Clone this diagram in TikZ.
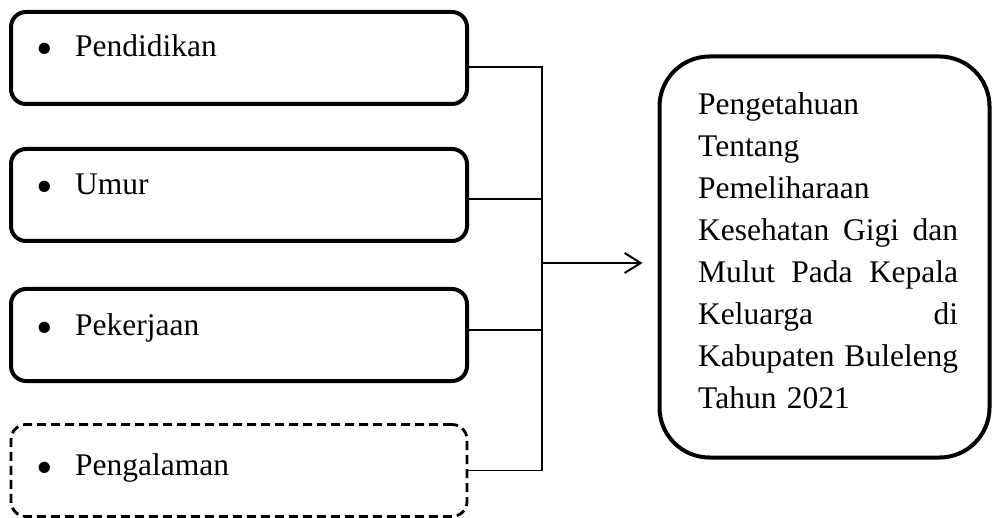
\documentclass[tikz,border=0pt]{standalone}
\usepackage{fontspec}
\usepackage{graphicx}
\setmainfont{Liberation Serif}
\usetikzlibrary{arrows.meta}
\tikzset{
  lbox/.style={draw, line width=4pt, rounded corners=15pt, minimum width=456pt, minimum height=92pt, inner sep=0pt},
  dbox/.style={lbox, line width=2.8pt, dash pattern=on 9pt off 5pt},
  itemtxt/.style={anchor=base west, inner sep=0pt, font=\fontsize{31.5pt}{42.1pt}\selectfont},
  rbox/.style={draw, line width=4pt, rounded corners=50pt, minimum width=330pt, minimum height=401pt, inner sep=0pt},
  rtxt/.style={anchor=base west, inner sep=0pt, text width=260pt, align=left, font=\fontsize{31.5pt}{42.1pt}\selectfont},
  conn/.style={line width=1.6pt},
  arr/.style={line width=2pt, -{Straight Barb[length=16pt,width=20pt,line width=2pt]}}
}
\newcommand{\bul}{\makebox[39pt][l]{\raisebox{-8pt}{\scalebox{1.5}{\textbullet}}}}
\newcommand{\jl}[1]{\makebox[260pt][l]{#1}}
\begin{document}
\begin{tikzpicture}[x=1pt,y=-1pt]
\useasboundingbox (0,0) rectangle (992,518);
\node[lbox] (b1) at (239,58) {};
\node[lbox] (b2) at (239,195) {};
\node[lbox] (b3) at (239,335) {};
\node[dbox] (b4) at (239,470.5) {};
\node[itemtxt] (t1) at (36,57) {\bul Pendidikan};
\node[itemtxt] (t2) at (36,195) {\bul Umur};
\node[itemtxt] (t3) at (36,335) {\bul Pekerjaan};
\node[itemtxt] (t4) at (36,475) {\bul Pengalaman};
\node[rbox] (rb) at (824.5,257) {};
\node[rtxt] (rt) at (698,114.3) {Pengetahuan\\ Tentang\\ Pemeliharaan\\ \jl{Kesehatan\hfill Gigi\hfill dan}\\ \jl{Mulut\hfill Pada\hfill Kepala}\\ \jl{Keluarga\hfill di}\\ \jl{Kabupaten\hfill Buleleng}\\ Tahun 2021};
\coordinate (bus) at (542,263);
\draw[conn] ([yshift=-9pt]b1.east) -| (bus);
\draw[conn] (b4.east) -| (bus);
\draw[conn] ([yshift=-4pt]b2.east) -- ([yshift=-4pt]b2.east -| bus);
\draw[conn] ([yshift=5pt]b3.east) -- ([yshift=5pt]b3.east -| bus);
\draw[arr, shorten >=15pt] (bus) -- (bus -| rb.west);
\end{tikzpicture}
\end{document}
